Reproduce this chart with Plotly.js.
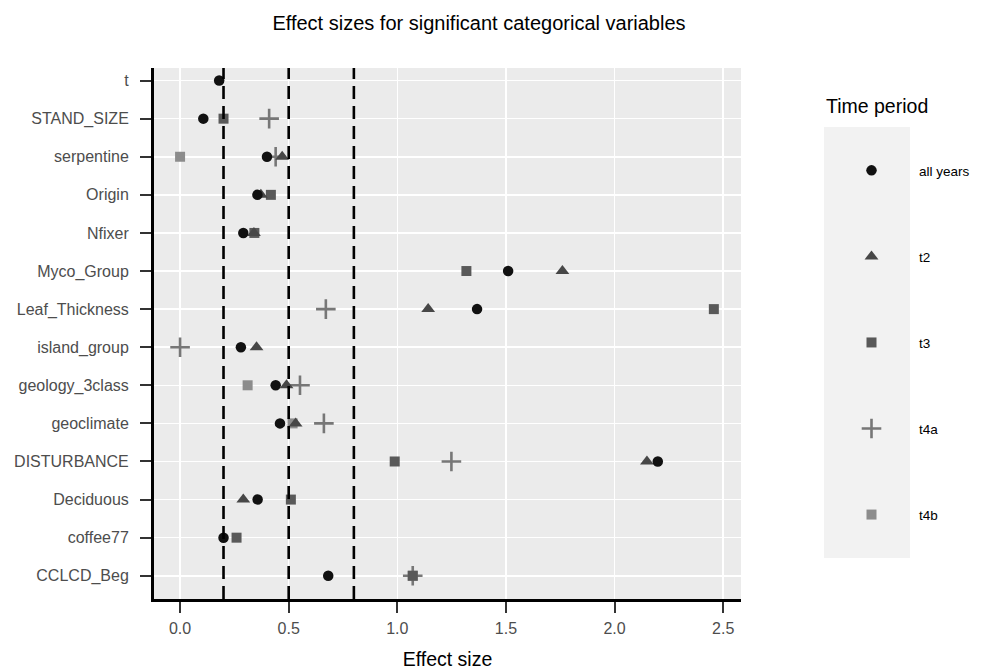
<!DOCTYPE html>
<html>
<head>
<meta charset="utf-8">
<script src="https://cdn.plot.ly/plotly-3.0.1.min.js"></script>
<style>html,body{margin:0;padding:0;background:#fff;}#chart{width:988px;height:670px;}</style>
</head>
<body>
<div id="chart"></div>
<script>
// Categories bottom -> top
const categories = ["CCLCD_Beg","coffee77","Deciduous","DISTURBANCE","geoclimate","geology_3class","island_group","Leaf_Thickness","Myco_Group","Nfixer","Origin","serpentine","STAND_SIZE","t"];

const allYearsVars = ["t","STAND_SIZE","serpentine","Origin","Nfixer","Myco_Group","Leaf_Thickness","island_group","geology_3class","geoclimate","DISTURBANCE","Deciduous","coffee77","CCLCD_Beg"];
const allYearsVals = [0.18,0.107,0.40,0.356,0.291,1.51,1.367,0.28,0.44,0.46,2.199,0.357,0.20,0.682];

const t2Vars = ["serpentine","Origin","Nfixer","Myco_Group","Leaf_Thickness","island_group","geology_3class","geoclimate","DISTURBANCE","Deciduous"];
const t2Vals = [0.47,0.372,0.34,1.76,1.142,0.352,0.49,0.532,2.149,0.291];

const t3Vars = ["STAND_SIZE","Origin","Nfixer","Myco_Group","Leaf_Thickness","DISTURBANCE","Deciduous","coffee77","CCLCD_Beg"];
const t3Vals = [0.20,0.418,0.342,1.318,2.457,0.988,0.51,0.26,1.071];

const t4aVars = ["STAND_SIZE","serpentine","Leaf_Thickness","island_group","geology_3class","geoclimate","DISTURBANCE","CCLCD_Beg"];
const t4aVals = [0.41,0.44,0.671,0.0,0.552,0.662,1.249,1.071];

const t4bVars = ["serpentine","geology_3class","geoclimate","CCLCD_Beg"];
const t4bVals = [0.0,0.311,0.518,1.071];

const seriesNames = ["all years","t2","t3","t4a","t4b"];
const thresholds = [0.2,0.5,0.8];
const xTicks = [0,0.5,1,1.5,2,2.5];
const xTickText = ["0.0","0.5","1.0","1.5","2.0","2.5"];

const FONT = "Liberation Sans, Arial, sans-serif";

const traces = [
  {name: seriesNames[4], legendrank:5, x: t4bVals, y: t4bVars, marker:{symbol:"square", size:10, color:"#8c8c8c"}},
  {name: seriesNames[3], legendrank:4, x: t4aVals, y: t4aVars, marker:{symbol:"cross-thin", size:14, color:"#777777", line:{width:2.6, color:"#777777"}}},
  {name: seriesNames[2], legendrank:3, x: t3Vals, y: t3Vars, marker:{symbol:"square", size:10, color:"#595959"}},
  {name: seriesNames[1], legendrank:2, x: t2Vals, y: t2Vars, marker:{symbol:"triangle-up", size:12, color:"#474747"}},
  {name: seriesNames[0], legendrank:1, x: allYearsVals, y: allYearsVars, marker:{symbol:"circle", size:10.5, color:"#111111"}}
].map((t,i) => Object.assign({type:"scatter", mode:"markers", legendgroup:"g"+t.legendrank, hoverinfo:"x+y+name"}, t));

const shapes = thresholds.map(v => ({
  type:"line", xref:"x", yref:"paper", x0:v, x1:v, y0:0, y1:1,
  line:{color:"#000", width:2.6, dash:"13px,7px"}, layer:"above"
}));
shapes.push({type:"rect", xref:"paper", yref:"paper", x0:1.1414, x1:1.2879, y0:0.0772, y1:0.8889,
  fillcolor:"#f2f2f2", line:{width:0}, layer:"below"});

const layout = {
  width:988, height:670,
  margin:{l:154, r:247, t:68, b:71},
  paper_bgcolor:"#ffffff",
  plot_bgcolor:"#ebebeb",
  font:{family:FONT, color:"#000"},
  title:{text:"Effect sizes for significant categorical variables", xref:"container", x:0.4848, xanchor:"center", y:0.965, yanchor:"middle", font:{size:20, color:"#000"}},
  xaxis:{
    range:[-0.12,2.582], tickvals:xTicks, ticktext:xTickText,
    showgrid:true, gridcolor:"#ffffff", gridwidth:1.5, zeroline:false,
    showline:true, linecolor:"#000", linewidth:3,
    ticks:"outside", ticklen:11, tickwidth:2, tickcolor:"#333",
    tickfont:{size:16, color:"#4d4d4d"}, ticklabelstandoff:2,
    title:{text:"Effect size", font:{size:19.5, color:"#000"}, standoff:20}
  },
  yaxis:{
    type:"category", categoryorder:"array", categoryarray:categories,
    range:[-0.61,13.33],
    showgrid:true, gridcolor:"#ffffff", gridwidth:1.5, zeroline:false,
    showline:true, linecolor:"#000", linewidth:3,
    ticks:"outside", ticklen:11, tickwidth:2, tickcolor:"#333",
    tickfont:{size:16, color:"#4d4d4d"}, ticklabelstandoff:8
  },
  shapes:shapes,
  annotations:[{text:"Time period", xref:"paper", yref:"paper", x:1.1414, y:0.9284, xanchor:"left", yanchor:"middle", showarrow:false, font:{size:19.5, color:"#000"}}],
  showlegend:true,
  legend:{x:1.1414, xanchor:"left", y:0.836, yanchor:"top", bgcolor:"rgba(0,0,0,0)",
    traceorder:"grouped", tracegroupgap:65.5, itemwidth:85,
    font:{size:13.5, color:"#000"}}
};

Plotly.newPlot("chart", traces, layout, {displayModeBar:false, staticPlot:true});
</script>
</body>
</html>
